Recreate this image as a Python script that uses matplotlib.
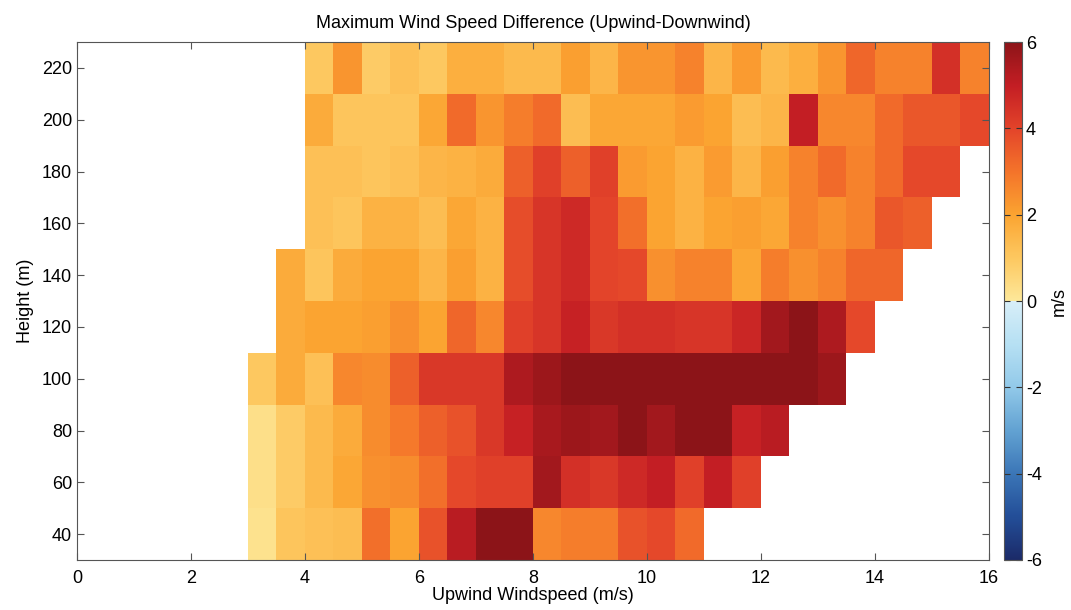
import numpy as np
import matplotlib
matplotlib.use('Agg')
import matplotlib.pyplot as plt
from matplotlib.colors import LinearSegmentedColormap

plt.rcParams['font.family'] = ['Liberation Sans', 'DejaVu Sans']
plt.rcParams['axes.unicode_minus'] = False

# Wind speed bins (m/s), 0.5 wide from 3 to 16
speed_edges = np.arange(3.0, 16.01, 0.5)
# Height bins (m), 20 wide, centred on 40..220
heights = [40, 60, 80, 100, 120, 140, 160, 180, 200, 220]

# First wind speed bin that has data, per height row
row_start = [3.0, 3.0, 3.0, 3.0, 3.5, 3.5, 4.0, 4.0, 4.0, 4.0]

# Maximum speed difference (upwind - downwind), m/s, one list per height
h40 = [0.2, 1.1, 1.2, 1.3, 3.1, 2.0, 3.7, 5.2, 6.0, 6.0, 2.6, 2.8, 2.8, 3.7, 3.9, 3.2]
h60 = [0.3, 0.9, 1.4, 1.9, 2.4, 2.5, 3.1, 3.9, 4.1, 4.1, 5.6, 4.5, 4.3, 4.7, 5.0, 4.1,
       5.0, 4.1]
h80 = [0.3, 0.9, 1.4, 1.8, 2.5, 2.9, 3.4, 3.7, 4.3, 4.9, 5.5, 5.7, 5.6, 6.0, 5.6, 6.0,
       6.0, 4.9, 5.2]
h100 = [1.0, 1.8, 1.2, 2.6, 2.5, 3.4, 4.3, 4.3, 4.3, 5.4, 5.7, 6.0, 6.0, 6.0, 6.0, 6.0,
        6.0, 6.0, 6.0, 6.0, 5.7]
h120 = [1.8, 2.0, 2.0, 2.1, 2.4, 2.0, 3.3, 2.6, 4.1, 4.4, 4.9, 4.3, 4.5, 4.5, 4.4, 4.4,
        4.8, 5.6, 6.0, 5.4, 3.9]
h140 = [1.8, 1.1, 1.8, 2.0, 2.0, 1.5, 2.1, 1.6, 3.8, 4.4, 4.7, 4.0, 3.9, 2.4, 2.7, 2.7,
        1.9, 2.8, 2.4, 2.7, 3.3, 3.3]
h160 = [1.2, 1.1, 1.6, 1.6, 1.3, 1.9, 1.6, 3.8, 4.4, 4.7, 4.0, 3.1, 2.0, 1.6, 2.0, 2.1,
        1.9, 2.7, 2.4, 2.7, 3.6, 3.4]
h180 = [1.2, 1.2, 1.1, 1.2, 1.5, 1.6, 1.8, 3.4, 4.1, 3.4, 4.1, 2.2, 2.0, 1.6, 2.2, 1.5,
        2.1, 2.7, 3.2, 2.7, 3.2, 3.9, 3.9]
h200 = [1.8, 1.1, 1.1, 1.1, 1.9, 3.2, 2.3, 2.8, 3.2, 1.3, 1.9, 1.9, 1.9, 2.2, 2.0, 1.3,
        1.5, 5.0, 2.6, 2.6, 3.2, 3.6, 3.6, 3.9]
h220 = [1.0, 2.3, 0.9, 1.2, 1.0, 1.7, 1.7, 1.4, 1.4, 2.1, 1.5, 2.3, 2.3, 2.7, 1.5, 2.2,
        1.4, 1.7, 2.3, 3.3, 2.7, 2.7, 4.5, 2.7]

rows = [h40, h60, h80, h100, h120, h140, h160, h180, h200, h220]

# Put the rows into a grid, leaving empty bins as NaN
ncol = len(speed_edges) - 1
grid = np.full((len(heights), ncol), np.nan)
for j, (start, vals) in enumerate(zip(row_start, rows)):
    i0 = int(round((start - 3.0) / 0.5))
    grid[j, i0:i0 + len(vals)] = vals

height_edges = np.array(heights[:1]) - 10
height_edges = np.append(height_edges, np.array(heights) + 10)

# Diverging map with a hard break at zero
cmap = LinearSegmentedColormap.from_list('updown', [
    (0.0, '#1b2a68'), (1 / 12, '#234e98'), (2 / 12, '#3b76b7'),
    (3 / 12, '#62a2d2'), (4 / 12, '#92c9e9'), (5 / 12, '#b6e0f3'),
    (0.4999, '#d8eef8'), (0.5, '#fde89a'), (7 / 12, '#fdc860'),
    (8 / 12, '#fba431'), (9 / 12, '#f4742a'), (10 / 12, '#e3442a'),
    (11 / 12, '#c41e24'), (1.0, '#8c1418')], N=512)

fig = plt.figure(figsize=(10.71, 6.10), dpi=100)
ax = fig.add_axes([0.0719, 0.082, 0.8515, 0.849])
cax = fig.add_axes([0.9374, 0.082, 0.0168, 0.849])

mesh = ax.pcolormesh(speed_edges, height_edges, grid, cmap=cmap, vmin=-6, vmax=6)

ax.set_xlim(0, 16)
ax.set_ylim(30, 230)
ax.set_xticks(np.arange(0, 17, 2))
ax.set_yticks(np.arange(40, 221, 20))
ax.tick_params(direction='in', top=True, right=True, length=5, labelsize=13,
               color='#555555', width=0.8)
ax.tick_params(axis='x', pad=7)
for s in ax.spines.values():
    s.set_color('#555555')
ax.set_xlabel('Upwind Windspeed (m/s)', fontsize=13, labelpad=0)
ax.set_ylabel('Height (m)', fontsize=13, labelpad=6)
ax.set_title('Maximum Wind Speed Difference (Upwind-Downwind)', fontsize=13, pad=10)

cb = fig.colorbar(mesh, cax=cax, ticks=np.arange(-6, 7, 2))
cb.ax.tick_params(direction='in', left=True, right=True, length=4, labelsize=13,
                  color='#333333', width=0.8, pad=3)
cb.outline.set_edgecolor('#555555')
cb.set_label('m/s', fontsize=13, labelpad=6)

fig.savefig('out.png', dpi=100)
